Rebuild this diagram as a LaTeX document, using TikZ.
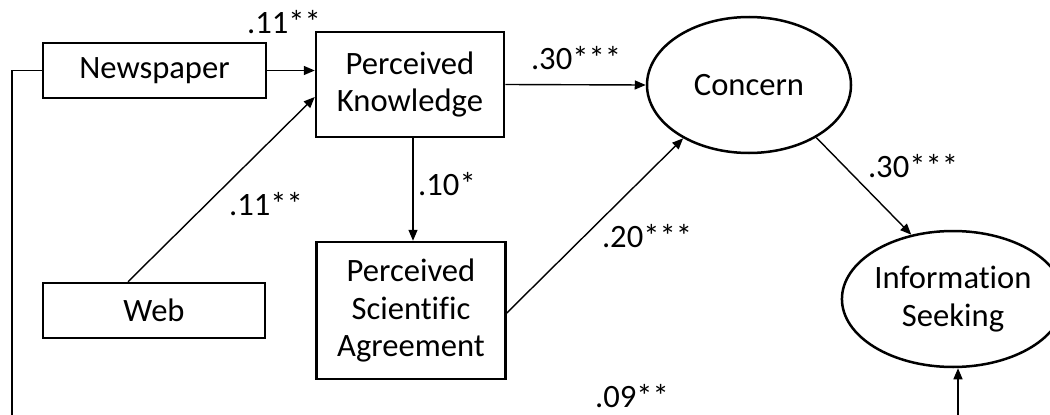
\documentclass[tikz,border=0pt]{standalone}
\usepackage{fontspec}
\setmainfont{Carlito}[Ligatures=NoCommon]
\usetikzlibrary{shapes.geometric,arrows.meta}
\begin{document}
\begin{tikzpicture}[x=1pt,y=-1pt,
  every node/.style={font=\fontsize{32.6}{37.8}\selectfont, inner sep=0pt, align=center},
  box/.style={draw, line width=2.5pt, rectangle},
  oval/.style={draw, line width=2.5pt, ellipse},
  lab/.style={},
  arr/.style={line width=1.4pt, -{Triangle[length=11pt,width=9pt]}},
  ln/.style={line width=1.4pt}]
\useasboundingbox (0,0) rectangle (1050,415);
\node[box, minimum width=223pt, minimum height=55pt] (news) at (154.5,70.5) {Newspaper};
\node[box, minimum width=222pt, minimum height=55pt] (web) at (154,310.5) {Web};
\node[box, minimum width=188pt, minimum height=105pt] (pk) at (410,84.5) {Perceived\\Knowledge};
\node[box, minimum width=189pt, minimum height=137pt] (psa) at (411,310.5) {Perceived\\Scientific\\Agreement};
\node[oval, minimum width=204pt, minimum height=136pt] (concern) at (749,85) {Concern};
\node[oval, minimum width=196pt, minimum height=136pt] (info) at (953,299) {Information\\Seeking};
\coordinate (bot1) at (12,416);
\coordinate (bot2) at (958,416);
% connectors
\draw[arr] (news.east) -- (news.east -| pk.west);
\draw[arr] ([xshift=-26pt]web.north) -- ([yshift=-12.5pt]pk.west);
\draw[arr] ([xshift=3pt]pk.south) -- ([xshift=2pt]psa.north);
\draw[arr] (pk.east) -- (concern.west);
\draw[arr] ([yshift=-2.5pt]psa.east) -- (concern.-141);
\draw[arr] (concern.-38.8) -- (info.123.5);
\draw[arr] (bot2) -- (bot2 |- info.south);
\draw[ln] (news.west) -| (bot1);
% labels
\node[lab] (l1) at (284,22) {.11**};
\node[lab] (l2) at (266,204) {.11**};
\node[lab] (l3) at (576,58) {.30***};
\node[lab] (l4) at (447,184) {.10*};
\node[lab] (l5) at (647,236) {.20***};
\node[lab] (l6) at (913,166) {.30***};
\node[lab] (l7) at (632,396) {.09**};
\end{tikzpicture}
\end{document}
